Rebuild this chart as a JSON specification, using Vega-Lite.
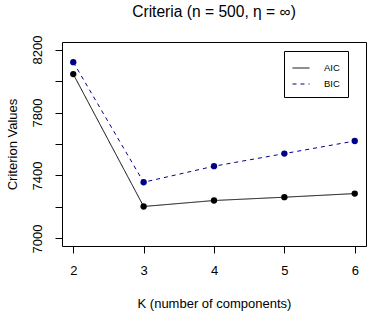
{
  "$schema": "https://vega.github.io/schema/vega-lite/v6.json",
  "autosize": "none",
  "width": 304,
  "height": 204,
  "padding": {"left": 62, "top": 42, "right": 2, "bottom": 65},
  "background": "white",
  "config": {
    "font": "Liberation Sans",
    "view": {"stroke": "black", "strokeWidth": 1},
    "axis": {"domain": false, "grid": false, "tickColor": "black", "tickSize": 7, "labelColor": "black", "titleColor": "black", "labelFont": "Liberation Sans", "titleFont": "Liberation Sans", "labelFontSize": 13, "titleFontSize": 13, "titleFontWeight": "normal"}
  },
  "title": {"text": "Criteria (n = 500, η = ∞)", "fontSize": 15.6, "fontWeight": "normal", "font": "Liberation Sans", "color": "black", "offset": 14, "anchor": "middle", "frame": "group"},
  "data": {"values": [
    {"K": 2, "crit": "AIC", "value": 8044},
    {"K": 3, "crit": "AIC", "value": 7203},
    {"K": 4, "crit": "AIC", "value": 7241},
    {"K": 5, "crit": "AIC", "value": 7262},
    {"K": 6, "crit": "AIC", "value": 7285},
    {"K": 2, "crit": "BIC", "value": 8120},
    {"K": 3, "crit": "BIC", "value": 7357},
    {"K": 4, "crit": "BIC", "value": 7459},
    {"K": 5, "crit": "BIC", "value": 7539},
    {"K": 6, "crit": "BIC", "value": 7619}
  ]},
  "encoding": {
    "x": {"field": "K", "type": "quantitative", "scale": {"domain": [1.84, 6.16], "nice": false, "zero": false},
      "axis": {"values": [2, 3, 4, 5, 6], "title": "K (number of components)", "labelPadding": 11, "titlePadding": 20, "labelFlush": false}},
    "y": {"field": "value", "type": "quantitative", "scale": {"domain": [6952, 8248], "nice": false, "zero": false},
      "axis": {"values": [7000, 7200, 7400, 7600, 7800, 8000, 8200], "labelExpr": "(datum.value - 7000) % 400 == 200 ? '' : datum.label", "labelAngle": -90, "labelAlign": "center", "labelBaseline": "bottom", "labelPadding": 11, "title": "Criterion Values", "titlePadding": 12, "labelFlush": false, "format": "d"}},
    "color": {"field": "crit", "type": "nominal", "scale": {"domain": ["AIC", "BIC"], "range": ["black", "#00008B"]},
      "legend": {"title": null, "orient": "none", "legendX": 222, "legendY": 9, "padding": 8, "strokeColor": "black", "fillColor": "white", "symbolType": "stroke", "symbolSize": 289, "symbolStrokeWidth": 1, "labelFontSize": 9.5, "labelFont": "Liberation Sans", "labelColor": "black", "labelOffset": 14, "rowPadding": 2}}
  },
  "layer": [
    {
      "mark": {"type": "line", "strokeWidth": 1},
      "encoding": {
        "strokeDash": {"field": "crit", "type": "nominal", "scale": {"domain": ["AIC", "BIC"], "range": [[1, 0], [4, 4]]}}
      }
    },
    {
      "mark": {"type": "point", "filled": true, "opacity": 1, "size": 40, "shape": "circle"},
      "encoding": {"color": {"field": "crit", "type": "nominal", "legend": null}}
    }
  ]
}
